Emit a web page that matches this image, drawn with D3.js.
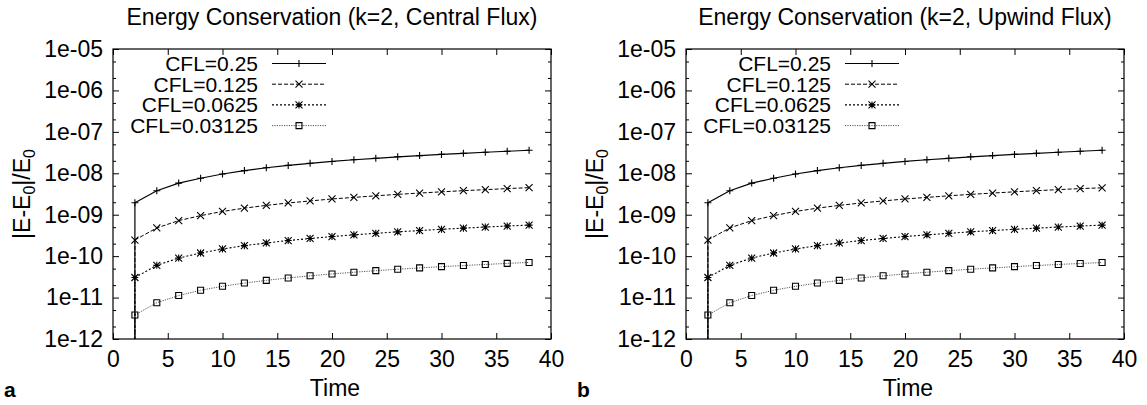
<!DOCTYPE html>
<meta charset="utf-8">
<style>
body { margin: 0; background: #fff; }
text { font-family: 'Liberation Sans', Arial, sans-serif; fill: #000; }
.axis text { font-size: 23px; }
.axis .domain { display: none; }
.axis line { stroke: #000; }
.title { font-size: 23px; }
.axisLabel { font-size: 23px; }
.legend text { font-size: 21px; }
.panelLetter { font-size: 21px; font-weight: bold; }
</style>
<svg width="1147" height="405"></svg>
<script src="https://d3js.org/d3.v7.min.js"></script>
<script>

var times = [2, 4, 6, 8, 10, 12, 14, 16, 18, 20, 22, 24, 26, 28, 30, 32, 34, 36, 38];

// central flux
var centralCfl025 = [1.95e-9, 3.8e-9, 5.8e-9, 7.6e-9, 9.6e-9, 1.16e-8, 1.36e-8, 1.55e-8, 1.74e-8, 1.93e-8,
  2.12e-8, 2.3e-8, 2.5e-8, 2.67e-8, 2.86e-8, 3.03e-8, 3.22e-8, 3.4e-8, 3.6e-8];
var centralCfl0125 = [2.45e-10, 4.8e-10, 7.2e-10, 9.5e-10, 1.2e-9, 1.44e-9, 1.68e-9, 1.92e-9, 2.15e-9, 2.4e-9,
  2.62e-9, 2.86e-9, 3.1e-9, 3.33e-9, 3.57e-9, 3.8e-9, 4.03e-9, 4.27e-9, 4.5e-9];
var centralCfl00625 = [3.05e-11, 6.0e-11, 9.0e-11, 1.19e-10, 1.49e-10, 1.79e-10, 2.08e-10, 2.38e-10, 2.67e-10, 2.97e-10,
  3.27e-10, 3.56e-10, 3.86e-10, 4.15e-10, 4.45e-10, 4.74e-10, 5.04e-10, 5.33e-10, 5.62e-10];
var centralCfl003125 = [3.8e-12, 7.5e-12, 1.12e-11, 1.5e-11, 1.87e-11, 2.24e-11, 2.6e-11, 2.98e-11, 3.35e-11, 3.72e-11,
  4.09e-11, 4.46e-11, 4.83e-11, 5.2e-11, 5.57e-11, 5.94e-11, 6.3e-11, 6.68e-11, 7.05e-11];

// upwind flux
var upwindCfl025 = [1.95e-9, 3.8e-9, 5.8e-9, 7.6e-9, 9.6e-9, 1.16e-8, 1.36e-8, 1.55e-8, 1.74e-8, 1.93e-8,
  2.12e-8, 2.3e-8, 2.5e-8, 2.67e-8, 2.86e-8, 3.03e-8, 3.22e-8, 3.4e-8, 3.6e-8];
var upwindCfl0125 = [2.45e-10, 4.8e-10, 7.2e-10, 9.5e-10, 1.2e-9, 1.44e-9, 1.68e-9, 1.92e-9, 2.15e-9, 2.4e-9,
  2.62e-9, 2.86e-9, 3.1e-9, 3.33e-9, 3.57e-9, 3.8e-9, 4.03e-9, 4.27e-9, 4.45e-9];
var upwindCfl00625 = [3.05e-11, 6.0e-11, 9.0e-11, 1.19e-10, 1.49e-10, 1.79e-10, 2.08e-10, 2.38e-10, 2.67e-10, 2.97e-10,
  3.27e-10, 3.56e-10, 3.86e-10, 4.15e-10, 4.45e-10, 4.74e-10, 5.04e-10, 5.33e-10, 5.6e-10];
var upwindCfl003125 = [3.8e-12, 7.5e-12, 1.12e-11, 1.5e-11, 1.87e-11, 2.24e-11, 2.6e-11, 2.98e-11, 3.35e-11, 3.72e-11,
  4.09e-11, 4.46e-11, 4.83e-11, 5.2e-11, 5.57e-11, 5.94e-11, 6.3e-11, 6.65e-11, 7.0e-11];

var seriesLabels = ["CFL=0.25", "CFL=0.125", "CFL=0.0625", "CFL=0.03125"];
var panelTitles = ["Energy Conservation (k=2, Central Flux)", "Energy Conservation (k=2, Upwind Flux)"];
var panelLetters = ["a", "b"];

var xTicks = [0, 5, 10, 15, 20, 25, 30, 35, 40];
var yTicks = [1e-12, 1e-11, 1e-10, 1e-9, 1e-8, 1e-7, 1e-6, 1e-5];
var yTickLabels = ["1e-12", "1e-11", "1e-10", "1e-09", "1e-08", "1e-07", "1e-06", "1e-05"];
var yMinorTicks = [];
yTicks.slice(0, -1).forEach(function(d) { yMinorTicks.push(d * 2, d * 5); });

var styles = [
  {marker: "plus",   dash: null,      stroke: "#000", width: 1.2},
  {marker: "cross",  dash: "4,2",     stroke: "#000", width: 1},
  {marker: "star",   dash: "2,2",     stroke: "#000", width: 1.1},
  {marker: "square", dash: "1.2,1.2", stroke: "#555", width: 1}
];

var svg = d3.select("svg"),
    margin = {top: 49, left: 113},
    width = 438,
    height = 290,
    panelGap = 573;

var x = d3.scaleLinear().domain([0, 40]).range([0, width]);
var y = d3.scaleLog().domain([1e-12, 1e-5]).range([height, 0]);

function markerPath(type) {
  var s = 3.5;
  if (type == "plus") return "M" + (-s) + ",0H" + s + "M0," + (-s) + "V" + s;
  if (type == "cross") return "M" + (-s) + "," + (-s) + "L" + s + "," + s + "M" + (-s) + "," + s + "L" + s + "," + (-s);
  if (type == "star") return "M" + (-s) + ",0H" + s + "M0," + (-s) + "V" + s +
      "M" + (-s) + "," + (-s) + "L" + s + "," + s + "M" + (-s) + "," + s + "L" + s + "," + (-s);
  var q = 3;
  return "M" + (-q) + "," + (-q) + "H" + q + "V" + q + "H" + (-q) + "Z";
}

function drawPanel(p, seriesList) {
  var g = svg.append("g")
      .attr("transform", "translate(" + (margin.left + p * panelGap) + "," + margin.top + ")");

  // ticks, all pointing inward
  g.append("g").attr("class", "axis")
      .call(d3.axisLeft(y).tickValues(yTicks).tickSize(-6).tickPadding(10)
        .tickFormat(function(d, i) { return yTickLabels[i]; }));
  g.append("g").attr("class", "axis")
      .call(d3.axisLeft(y).tickValues(yMinorTicks).tickSize(-3).tickFormat(""));
  g.append("g").attr("class", "axis")
      .attr("transform", "translate(" + width + ",0)")
      .call(d3.axisRight(y).tickValues(yTicks).tickSize(-6).tickFormat(""));
  g.append("g").attr("class", "axis")
      .attr("transform", "translate(" + width + ",0)")
      .call(d3.axisRight(y).tickValues(yMinorTicks).tickSize(-3).tickFormat(""));
  g.append("g").attr("class", "axis")
      .attr("transform", "translate(0," + height + ")")
      .call(d3.axisBottom(x).tickValues(xTicks).tickSize(-6).tickPadding(12));
  g.append("g").attr("class", "axis")
      .call(d3.axisTop(x).tickValues(xTicks).tickSize(-6).tickFormat(""));

  g.selectAll(".axis .tick text").attr("fill", "#000");

  var line = d3.line()
      .x(function(d) { return x(d[0]); })
      .y(function(d) { return y(d[1]); });

  // series drawn from the smallest up so the solid line sits on top
  for (var k = seriesList.length - 1; k >= 0; k--) {
    var vals = seriesList[k], st = styles[k];
    var pts = times.map(function(t, i) { return [t, vals[i]]; });
    var s = g.append("g");
    // line drops from the first point to below the axis
    s.append("line")
        .attr("x1", x(times[0])).attr("x2", x(times[0]))
        .attr("y1", y(vals[0])).attr("y2", y(y.domain()[0]))
        .attr("stroke", st.stroke).attr("stroke-width", st.width)
        .attr("stroke-dasharray", st.dash);
    s.append("path")
        .attr("d", line(pts))
        .attr("fill", "none")
        .attr("stroke", st.stroke)
        .attr("stroke-width", st.width)
        .attr("stroke-dasharray", st.dash);
    s.selectAll(".pt")
      .data(pts)
      .enter().append("path")
        .attr("transform", function(d) { return "translate(" + x(d[0]) + "," + y(d[1]) + ")"; })
        .attr("d", markerPath(st.marker))
        .attr("fill", "none")
        .attr("stroke", "#000")
        .attr("stroke-width", 1.1);
  }

  // frame
  g.append("rect")
      .attr("width", width).attr("height", height)
      .attr("fill", "none").attr("stroke", "#000").attr("stroke-width", 1.2);

  // legend
  var legend = g.append("g").attr("class", "legend");
  seriesLabels.forEach(function(lab, k) {
    var ly = 14.5 + k * 20.7, st = styles[k];
    legend.append("text")
        .attr("x", 145).attr("y", ly).attr("dy", "0.36em")
        .attr("text-anchor", "end")
        .text(lab);
    legend.append("line")
        .attr("x1", 159).attr("x2", 213).attr("y1", ly).attr("y2", ly)
        .attr("stroke", st.stroke).attr("stroke-width", st.width)
        .attr("stroke-dasharray", st.dash);
    legend.append("path")
        .attr("transform", "translate(186," + ly + ")")
        .attr("d", markerPath(st.marker))
        .attr("fill", "none").attr("stroke", "#000").attr("stroke-width", 1.1);
  });

  // title
  g.append("text")
      .attr("class", "title")
      .attr("x", width / 2).attr("y", 25 - margin.top)
      .attr("text-anchor", "middle")
      .text(panelTitles[p]);

  // x axis label
  g.append("text")
      .attr("class", "axisLabel")
      .attr("x", width / 2 + 3).attr("y", 396 - margin.top)
      .attr("text-anchor", "middle")
      .text("Time");

  // y axis label
  var yl = g.append("text")
      .attr("class", "axisLabel")
      .attr("transform", "translate(-83," + (height / 2) + ") rotate(-90)")
      .attr("text-anchor", "middle");
  yl.append("tspan").text("|E-E");
  yl.append("tspan").attr("font-size", "16px").attr("dy", 5).text("0");
  yl.append("tspan").attr("dy", -5).text("|/E");
  yl.append("tspan").attr("font-size", "16px").attr("dy", 5).text("0");

  g.append("text")
      .attr("class", "panelLetter")
      .attr("x", -109).attr("y", 397 - margin.top)
      .text(panelLetters[p]);
}

drawPanel(0, [centralCfl025, centralCfl0125, centralCfl00625, centralCfl003125]);
drawPanel(1, [upwindCfl025, upwindCfl0125, upwindCfl00625, upwindCfl003125]);

</script>
